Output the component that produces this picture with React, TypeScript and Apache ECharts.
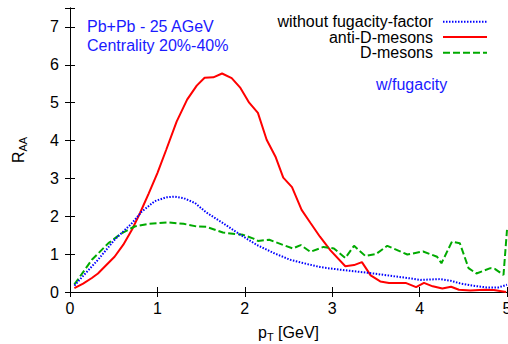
import React, { useEffect, useRef } from "react";
import * as echarts from "echarts";

// without fugacity-factor (blue dotted)
const noFugPT = [0.05, 0.2, 0.32, 0.51, 0.71, 0.82, 0.97, 1.1, 1.2, 1.3, 1.43, 1.56, 1.75, 1.95, 2.14, 2.33, 2.52, 2.71, 2.86, 2.98, 3.2, 3.36, 3.5, 3.63, 3.89, 4.01, 4.23, 4.35, 4.46, 4.6, 4.77, 4.9, 5.0];
const noFugR = [0.17, 0.55, 0.85, 1.38, 1.82, 2.12, 2.4, 2.5, 2.52, 2.48, 2.35, 2.1, 1.82, 1.51, 1.24, 1.03, 0.85, 0.74, 0.66, 0.62, 0.56, 0.52, 0.48, 0.44, 0.36, 0.32, 0.34, 0.3, 0.23, 0.17, 0.12, 0.12, 0.19];

// anti-D-mesons (red solid)
const antiDPT = [0.05, 0.15, 0.25, 0.32, 0.41, 0.51, 0.61, 0.71, 0.8, 0.9, 1.0, 1.1, 1.22, 1.34, 1.45, 1.54, 1.64, 1.74, 1.85, 1.95, 2.05, 2.15, 2.25, 2.35, 2.44, 2.54, 2.65, 2.75, 2.86, 2.98, 3.15, 3.25, 3.34, 3.44, 3.55, 3.65, 3.84, 3.96, 4.05, 4.15, 4.26, 4.36, 4.45, 4.58, 4.74, 4.85, 4.99];
const antiDR = [0.1, 0.22, 0.37, 0.49, 0.7, 0.93, 1.25, 1.65, 2.08, 2.6, 3.14, 3.75, 4.5, 5.08, 5.45, 5.66, 5.67, 5.77, 5.65, 5.39, 5.0, 4.73, 4.02, 3.58, 3.02, 2.77, 2.17, 1.83, 1.46, 1.1, 0.68, 0.71, 0.79, 0.44, 0.28, 0.24, 0.24, 0.13, 0.24, 0.15, 0.09, 0.14, 0.06, 0.04, 0.06, 0.05, 0.0];

// D-mesons (green dashed)
const dPT = [0.05, 0.25, 0.44, 0.59, 0.74, 0.9, 1.12, 1.3, 1.45, 1.56, 1.75, 1.98, 2.1, 2.15, 2.28, 2.44, 2.55, 2.64, 2.75, 2.9, 3.02, 3.15, 3.25, 3.38, 3.5, 3.63, 3.86, 4.04, 4.2, 4.25, 4.37, 4.46, 4.56, 4.65, 4.81, 4.86, 4.96, 5.0];
const dR = [0.2, 0.85, 1.29, 1.55, 1.73, 1.8, 1.84, 1.8, 1.73, 1.72, 1.57, 1.51, 1.41, 1.35, 1.38, 1.24, 1.15, 1.24, 1.06, 1.19, 1.15, 0.9, 1.22, 0.95, 1.0, 1.22, 0.99, 1.07, 0.93, 0.76, 1.33, 1.29, 0.63, 0.49, 0.63, 0.61, 0.45, 1.64];

const seriesNames = ["without fugacity-factor", "anti-D-mesons", "D-mesons"];
const seriesColors = ["#0000ff", "#ff0000", "#00aa00"];
const seriesDash: (number[] | null)[] = [[1.5, 1.5], null, [7, 3]];
const xTicks = [0, 1, 2, 3, 4, 5];
const annotations = ["Pb+Pb - 25 AGeV", "Centrality 20%-40%", "w/fugacity"];

const FONT = "Liberation Sans, Arial, Helvetica, sans-serif";

function pairs(xs: number[], ys: number[]) {
  return xs.map((x, i) => [x, ys[i]]);
}

export default function App() {
  const ref = useRef<HTMLDivElement>(null);
  useEffect(() => {
    if (!ref.current) return;
    const chart = echarts.init(ref.current, undefined, { renderer: "svg" });
    const hideNonInt = (v: number) => (Number.isInteger(v) ? String(v) : "");
    const frameAxis = {
      axisLine: { show: true, lineStyle: { color: "#000", width: 1 } },
      axisTick: { show: true, inside: true, length: 5, lineStyle: { color: "#000" } },
      splitLine: { show: false },
    };
    const legendRowsY = [21.7, 37, 52.7];
    const legendGraphics: any[] = [];
    seriesNames.forEach((name, i) => {
      legendGraphics.push({
        type: "text",
        x: 433,
        y: legendRowsY[i],
        style: { text: name, fill: "#000", font: `16px ${FONT}`, align: "right", verticalAlign: "middle" },
      });
      legendGraphics.push({
        type: "line",
        shape: { x1: 443, y1: legendRowsY[i], x2: 487, y2: legendRowsY[i] },
        style: { stroke: seriesColors[i], lineWidth: 2, lineDash: seriesDash[i] || undefined },
      });
    });
    chart.setOption({
      animation: false,
      backgroundColor: "#ffffff",
      textStyle: { fontFamily: FONT },
      grid: { left: 70, right: 1, top: 8, bottom: 52, containLabel: false, outerBoundsMode: "none" },
      xAxis: [
        {
          type: "value",
          min: xTicks[0],
          max: xTicks[xTicks.length - 1],
          interval: 1,
          ...frameAxis,
          axisLabel: { fontSize: 16, color: "#000", fontFamily: FONT, margin: 8, formatter: hideNonInt },
          name: "{p|p}{s|T}{p| [GeV]}",
          nameLocation: "middle",
          nameGap: 31,
          nameTextStyle: {
            fontFamily: FONT,
            rich: {
              p: { fontSize: 16, color: "#000", fontFamily: FONT },
              s: { fontSize: 11, color: "#000", fontFamily: FONT, padding: [8, 0, 0, 0] },
            },
          },
        },
        {
          type: "value",
          position: "top",
          min: 0,
          max: 5,
          interval: 1,
          ...frameAxis,
          axisLabel: { show: false },
        },
      ],
      yAxis: [
        {
          type: "value",
          min: 0,
          max: 7.5,
          interval: 1,
          ...frameAxis,
          axisLabel: { fontSize: 16, color: "#000", fontFamily: FONT, margin: 11, formatter: hideNonInt },
          name: "{p|R}{s|AA}",
          nameLocation: "middle",
          nameGap: 42,
          nameRotate: 90,
          nameTextStyle: {
            fontFamily: FONT,
            rich: {
              p: { fontSize: 16, color: "#000", fontFamily: FONT },
              s: { fontSize: 11, color: "#000", fontFamily: FONT, padding: [8, 0, 0, 0] },
            },
          },
        },
        {
          type: "value",
          position: "right",
          min: 0,
          max: 7.5,
          interval: 1,
          ...frameAxis,
          axisLabel: { show: false },
        },
      ],
      graphic: [
        { type: "text", x: 87, y: 26.5, style: { text: annotations[0], fill: "#1a1aff", font: `16px ${FONT}`, verticalAlign: "middle" } },
        { type: "text", x: 87, y: 45.5, style: { text: annotations[1], fill: "#1a1aff", font: `16px ${FONT}`, verticalAlign: "middle" } },
        { type: "text", x: 376, y: 84, style: { text: annotations[2], fill: "#1a1aff", font: `16px ${FONT}`, verticalAlign: "middle" } },
        ...legendGraphics,
      ],
      series: [
        {
          name: seriesNames[0],
          type: "line",
          data: pairs(noFugPT, noFugR),
          showSymbol: false,
          symbol: "none",
          lineStyle: { color: seriesColors[0], width: 2, type: seriesDash[0] },
          itemStyle: { color: seriesColors[0] },
          z: 3,
        },
        {
          name: seriesNames[1],
          type: "line",
          data: pairs(antiDPT, antiDR),
          showSymbol: false,
          symbol: "none",
          lineStyle: { color: seriesColors[1], width: 2, type: "solid" },
          itemStyle: { color: seriesColors[1] },
          z: 2,
        },
        {
          name: seriesNames[2],
          type: "line",
          data: pairs(dPT, dR),
          showSymbol: false,
          symbol: "none",
          lineStyle: { color: seriesColors[2], width: 2, type: seriesDash[2] },
          itemStyle: { color: seriesColors[2] },
          z: 2,
        },
      ],
    });
    return () => chart.dispose();
  }, []);
  return <div ref={ref} style={{ position: "fixed", left: 0, top: 0, width: 508, height: 344 }} />;
}
